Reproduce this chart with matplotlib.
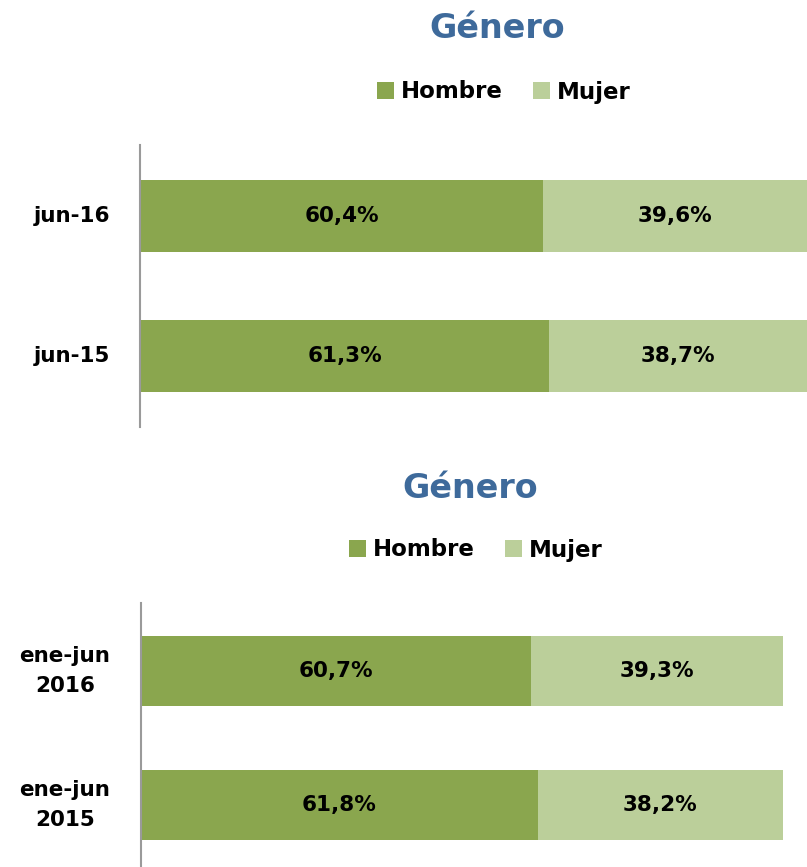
import matplotlib.pyplot as plt
from matplotlib.transforms import blended_transform_factory

# top chart: month snapshots
top_labels = ["jun-15", "jun-16"]
top_hombre = [61.3, 60.4]
top_mujer = [38.7, 39.6]

# bottom chart: january-june periods
bot_labels = ["ene-jun\n2015", "ene-jun\n2016"]
bot_hombre = [61.8, 60.7]
bot_mujer = [38.2, 39.3]

series_names = ["Hombre", "Mujer"]
dark = "#8aa64e"
light = "#bbcf9a"
title_color = "#3e6a9b"

plt.rcParams["font.family"] = ["DejaVu Sans"]
plt.rcParams["font.weight"] = "bold"

fig = plt.figure(figsize=(8.07, 8.67), dpi=100)


def fmt(v):
    return f"{v:.1f}%".replace(".", ",")


def draw(ax, labels, hombre, mujer, bar_h, label_x):
    pos = list(range(len(labels)))
    b1 = ax.barh(pos, hombre, height=bar_h, color=dark, label=series_names[0])
    b2 = ax.barh(pos, mujer, left=hombre, height=bar_h, color=light,
                 label=series_names[1])
    for i in pos:
        ax.text(hombre[i] / 2, i, fmt(hombre[i]), ha="center", va="center",
                fontsize=15.5, fontweight="bold")
        ax.text(hombre[i] + mujer[i] / 2, i, fmt(mujer[i]), ha="center",
                va="center", fontsize=15.5, fontweight="bold")
    # category labels centred in the left margin
    tr = blended_transform_factory(fig.transFigure, ax.transData)
    for i in pos:
        ax.text(label_x, i, labels[i], transform=tr, ha="center", va="center",
                fontsize=15.5, fontweight="bold", multialignment="center",
                linespacing=1.6)
    ax.set_xlim(0, 100)
    ax.set_yticks([])
    ax.set_xticks([])
    for s in ["top", "right", "bottom"]:
        ax.spines[s].set_visible(False)
    ax.spines["left"].set_color("#9a9a9a")
    ax.spines["left"].set_linewidth(1.5)
    return b1, b2


ax1 = fig.add_axes([0.1735, 0.5075, 0.8265, 0.3253])
h1 = draw(ax1, top_labels, top_hombre, top_mujer, 0.514, 72 / 807)
ax1.set_ylim(-0.507, 1.507)

ax2 = fig.add_axes([0.1747, 0.0, 0.7955, 0.3045])
h2 = draw(ax2, bot_labels, bot_hombre, bot_mujer, 0.52, 65 / 807)
ax2.set_ylim(-0.463, 1.507)

fig.text(497 / 807, 1 - 28 / 867, "Género", ha="center", va="center",
         fontsize=24, fontweight="bold", color=title_color)
fig.text(470 / 807, 1 - 488 / 867, "Género", ha="center", va="center",
         fontsize=24, fontweight="bold", color=title_color)

leg_kw = dict(loc="center", ncol=2, frameon=False,
              prop={"size": 16.5, "weight": "bold"}, handlelength=0.75,
              handleheight=0.75, handletextpad=0.3, columnspacing=1.3)
fig.legend(h1, series_names, bbox_to_anchor=(504 / 807, 1 - 92 / 867), **leg_kw)
fig.legend(h2, series_names, bbox_to_anchor=(476 / 807, 1 - 550 / 867), **leg_kw)

fig.savefig("out.png", dpi=100)
